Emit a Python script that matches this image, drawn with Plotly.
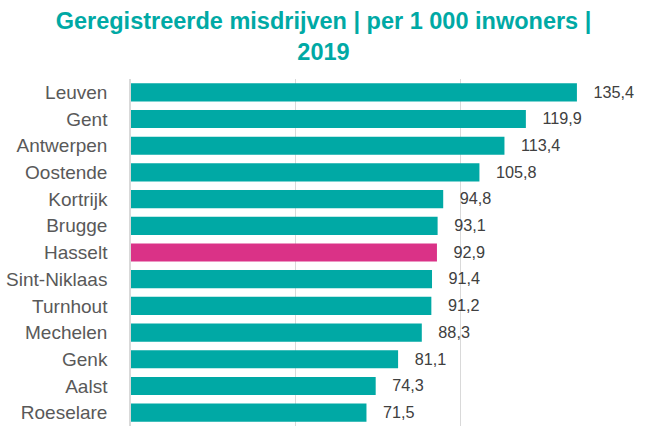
import plotly.graph_objects as go

cities = ["Leuven", "Gent", "Antwerpen", "Oostende", "Kortrijk", "Brugge", "Hasselt",
          "Sint-Niklaas", "Turnhout", "Mechelen", "Genk", "Aalst", "Roeselare"]
values = [135.4, 119.9, 113.4, 105.8, 94.8, 93.1, 92.9, 91.4, 91.2, 88.3, 81.1, 74.3, 71.5]
highlight = "Hasselt"

teal = "#00A9A5"
magenta = "#DA3287"
colors = [magenta if c == highlight else teal for c in cities]

fig = go.Figure(go.Bar(
    x=values, y=cities, orientation="h",
    marker=dict(color=colors, line=dict(width=0)),
    width=0.68,
    texttemplate="\u00a0\u00a0\u00a0%{x:.1f}",
    textposition="outside",
    textfont=dict(family="Liberation Sans, Arial", size=17, color="#404040"),
    cliponaxis=False,
    hoverinfo="skip",
))

fig.update_layout(
    width=647, height=426,
    margin=dict(l=131, r=22, t=79, b=0),
    paper_bgcolor="white", plot_bgcolor="white",
    separators=", ",
    showlegend=False,
    title=dict(
        text="<b>Geregistreerde misdrijven | per 1 000 inwoners |<br>2019</b>",
        x=0.5, xanchor="center", y=0.932, yanchor="middle",
        font=dict(family="Liberation Sans, Arial", size=23.5, color=teal),
    ),
    xaxis=dict(range=[0, 150], dtick=50, showticklabels=False, showgrid=True,
               gridcolor="#D9D9D9", gridwidth=1, zeroline=False, showline=False,
               automargin=False),
    yaxis=dict(autorange="reversed", showline=True, linecolor="#D9D9D9", linewidth=1.5,
               ticks="", ticklabelstandoff=18, automargin=False,
               tickfont=dict(family="Liberation Sans, Arial", size=19, color="#595959")),
)

fig.write_html("out.html", config={"displayModeBar": False},
               post_script="document.body.style.margin='0';")
